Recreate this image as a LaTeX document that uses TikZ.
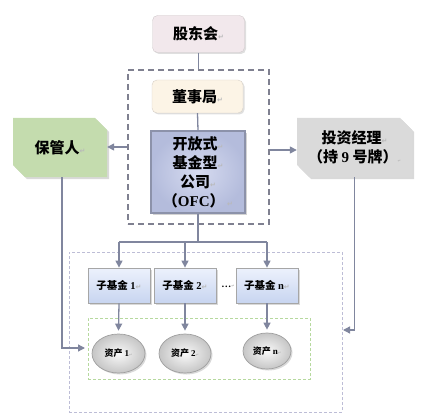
\documentclass[tikz,border=0pt]{standalone}
\usepackage{fontspec}
\newfontfamily\cjk{Noto Sans CJK SC}
\newfontfamily\lat{Liberation Serif}
\newfontfamily\sym{DejaVu Sans}
\usetikzlibrary{arrows.meta,shapes.geometric,shapes.misc,shadows}
\definecolor{lnc}{HTML}{80869E}
\definecolor{dashc}{HTML}{7F8090}
\definecolor{pinkc}{HTML}{F2E8EC}
\definecolor{creamc}{HTML}{FCF4E6}
\definecolor{greenc}{HTML}{C4DCAE}
\definecolor{grayc}{HTML}{DADADA}
\definecolor{poolc}{HTML}{BDBDD6}
\definecolor{gdash}{HTML}{B6D99E}
\newcommand{\pmk}{{\sym\fontsize{7}{7}\selectfont\textcolor{gray!55}{↵}}}
\newcommand{\pmks}{{\sym\fontsize{4}{4}\selectfont\textcolor{gray!55}{↵}}}
\tikzset{
  lnk/.style={draw=lnc, line width=1.3pt},
  arr/.style={lnk, -{Triangle[length=7pt,width=7pt]}},
  bigtxt/.style={font=\cjk\bfseries\fontsize{15}{19}\selectfont, text=black},
  smalltxt/.style={font=\cjk\bfseries\fontsize{10.5}{12}\selectfont, text=black},
  assettxt/.style={font=\cjk\bfseries\fontsize{9}{11}\selectfont, text=black},
  rbox/.style={bigtxt, rounded corners=5pt, draw=pinkc!70!gray, line width=0.4pt, inner sep=0pt,
    drop shadow={opacity=0.25, shadow xshift=1.5pt, shadow yshift=-1.5pt}},
  ofcbox/.style={bigtxt, draw={rgb,255:red,140;green,146;blue,170}, line width=1.4pt, inner sep=0pt, align=center,
    inner color={rgb,255:red,214;green,219;blue,240}, outer color={rgb,255:red,180;green,188;blue,220},
    drop shadow={opacity=0.35, shadow xshift=2pt, shadow yshift=-2pt}},
  cutbox/.style={bigtxt, chamfered rectangle, chamfered rectangle corners={north east,south west},
    chamfered rectangle sep=6pt, inner sep=0pt, align=center,
    drop shadow={opacity=0.3, shadow xshift=2pt, shadow yshift=-2pt}},
  sfbox/.style={smalltxt, draw=gray!70, line width=0.8pt, inner sep=0pt,
    top color={rgb,255:red,236;green,241;blue,252}, bottom color={rgb,255:red,200;green,213;blue,240},
    minimum width=62pt, minimum height=35pt,
    drop shadow={opacity=0.3, shadow xshift=1.5pt, shadow yshift=-1.5pt}},
  asset/.style={assettxt, ellipse, draw=gray!75, line width=0.7pt, inner sep=0pt,
    inner color=gray!5, outer color=gray!45,
    drop shadow={opacity=0.3, shadow xshift=1.5pt, shadow yshift=-1.5pt}},
}
\begin{document}
\begin{tikzpicture}[x=1pt,y=-1pt]
\useasboundingbox (0,0) rectangle (428,417);
% containers
\node[draw=dashc, line width=1.5pt, dash pattern=on 6pt off 4pt, minimum width=141pt, minimum height=154pt, inner sep=0pt] (board) at (198.5,147) {};
\node[draw=poolc, line width=0.6pt, dash pattern=on 3pt off 2pt, minimum width=273pt, minimum height=160pt, inner sep=0pt] (pool) at (205.5,332) {};
\node[draw=gdash, line width=0.6pt, dash pattern=on 3pt off 2pt, minimum width=222pt, minimum height=61pt, inner sep=0pt] (gbox) at (199,348.5) {};
% top nodes
\node[rbox, fill=pinkc, minimum width=92pt, minimum height=37pt] (sh) at (198.5,34) {股东会\pmk};
\node[rbox, fill=creamc, draw=creamc!70!gray, minimum width=91pt, minimum height=33pt] (dj) at (197.5,96.5) {董事局\pmk};
\node[ofcbox, minimum width=94pt, minimum height=82pt] (ofc) at (198,172) {开放式\pmk\\基金型\pmk\\公司\pmk\\（{\lat\bfseries OFC}）\,\pmk};
\node[cutbox, fill=greenc, minimum width=94pt, minimum height=59pt] (cust) at (60,147.5) {保管人\pmk};
\node[cutbox, fill=grayc, minimum width=115pt, minimum height=59pt] (mgr) at (354.5,147.5) {投资经理\pmk\\（持 {\lat\bfseries 9} 号牌）\pmks};
% sub funds
\node[sfbox] (sf1) at (119,285.5) {子基金 {\lat\bfseries 1}\pmk};
\node[sfbox] (sf2) at (185,285.5) {子基金 {\lat\bfseries 2}\pmk};
\node[sfbox] (sfn) at (267,285.5) {子基金 {\lat\bfseries n}\pmk};
\node[font=\lat\bfseries\fontsize{10}{12}\selectfont, inner sep=0pt] (dots) at (228,286) {…\pmks};
% assets
\node[asset, minimum width=53pt, minimum height=39pt] (a1) at (118.5,353.5) {资产 {\lat\bfseries 1}\pmks};
\node[asset, minimum width=52pt, minimum height=39pt] (a2) at (185,353.5) {资产 {\lat\bfseries 2}\pmks};
\node[asset, minimum width=48pt, minimum height=36pt] (an) at (267,351) {资产 {\lat\bfseries n}\pmks};
% connectors
\draw[lnk] (sh.south) -- (sh.south |- board.north);
\draw[lnk] (dj.south) -- (ofc.north);
\draw[arr] (board.west) -- (board.west -| cust.east);
\draw[arr] ([yshift=-3pt]board.east) -- ([yshift=-3pt]board.east -| mgr.west);
\coordinate (jn) at (198,242);
\draw[lnk] (ofc.south) -- (jn);
\draw[lnk] (sf1.north |- jn) -- (sfn.north |- jn);
\draw[arr] (sf1.north |- jn) -- (sf1.north);
\draw[arr] (sf2.north |- jn) -- (sf2.north);
\draw[arr] (sfn.north |- jn) -- (sfn.north);
\draw[arr] (sf1.south) -- ([yshift=3pt]a1.north);
\draw[arr] (sf2.south) -- ([yshift=3pt]a2.north);
\draw[arr] (sfn.south) -- ([yshift=3pt]an.north);
\coordinate (cin) at (85,348);
\draw[arr] ([xshift=2pt]cust.south) |- (cin);
\coordinate (min) at (343,330);
\draw[arr] (mgr.south) |- (min);
\end{tikzpicture}
\end{document}
